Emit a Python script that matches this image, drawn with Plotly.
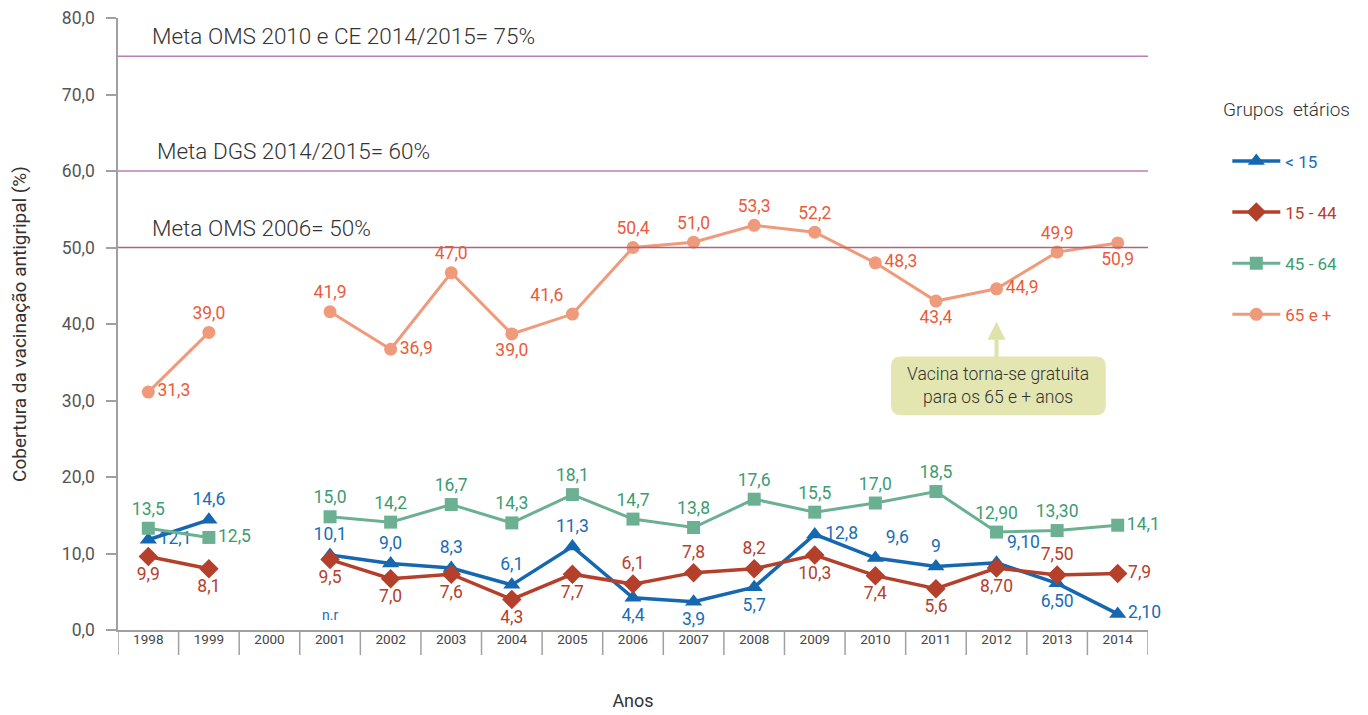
import plotly.graph_objects as go

years = [str(y) for y in range(1998, 2015)]

# plotted values; 2000 = no data
lt15 = [11.8, 14.4, None, 9.8, 8.7, 8.1, 5.9, 10.9, 4.2, 3.7, 5.6, 12.5, 9.4, 8.3, 8.8, 6.1, 2.1]
g15_44 = [9.6, 8.0, None, 9.2, 6.7, 7.3, 4.0, 7.3, 6.0, 7.5, 8.0, 9.8, 7.1, 5.4, 8.1, 7.2, 7.4]
g45_64 = [13.3, 12.1, None, 14.8, 14.1, 16.4, 14.0, 17.7, 14.5, 13.4, 17.1, 15.4, 16.6, 18.1, 12.8, 13.0, 13.7]
g65 = [31.1, 38.9, None, 41.6, 36.7, 46.7, 38.7, 41.3, 50.0, 50.7, 52.9, 52.0, 48.0, 43.0, 44.6, 49.4, 50.6]

# printed labels
lt15_lbl = ["12,1", "14,6", "", "10,1", "9,0", "8,3", "6,1", "11,3", "4,4", "3,9", "5,7", "12,8", "9,6", "9", "9,10", "6,50", "2,10"]
g15_44_lbl = ["9,9", "8,1", "", "9,5", "7,0", "7,6", "4,3", "7,7", "6,1", "7,8", "8,2", "10,3", "7,4", "5,6", "8,70", "7,50", "7,9"]
g45_64_lbl = ["13,5", "12,5", "", "15,0", "14,2", "16,7", "14,3", "18,1", "14,7", "13,8", "17,6", "15,5", "17,0", "18,5", "12,90", "13,30", "14,1"]
g65_lbl = ["31,3", "39,0", "", "41,9", "36,9", "47,0", "39,0", "41,6", "50,4", "51,0", "53,3", "52,2", "48,3", "43,4", "44,9", "49,9", "50,9"]

targets = [75, 60, 50]
target_lbl = ["Meta OMS 2010 e CE 2014/2015= 75%", "Meta DGS 2014/2015= 60%", "Meta OMS 2006= 50%"]
series_names = ["&lt; 15", "15 - 44", "45 - 64", "65 e +"]
nr_year = "2001"
free_year = "2012"
free_value_tip = 40.3

# label placement (style)
TC, BC, MR, TR, TL = "top center", "bottom center", "middle right", "top right", "top left"
lt15_pos = [MR, TC, TC, TC, TC, TC, TC, TC, BC, BC, BC, MR, TR, TC, TR, BC, MR]
g15_44_pos = [BC, BC, BC, BC, BC, BC, BC, BC, TC, TC, TC, BC, BC, BC, BC, TC, MR]
g45_64_pos = [TC, MR, TC, TC, TC, TC, TC, TC, TC, TC, TC, TC, TC, TC, TC, TC, MR]
g65_pos = [MR, TC, TC, TC, MR, TC, BC, TL, TC, TC, TC, TC, MR, BC, MR, TC, BC]

FONT = "Roboto"
fig = go.Figure()

specs = [
    (lt15, lt15_lbl, lt15_pos, "#1568b0", "#1a6db5", "triangle-up", 15, 3.5),
    (g15_44, g15_44_lbl, g15_44_pos, "#b4402c", "#b4402c", "diamond", 15, 3.5),
    (g45_64, g45_64_lbl, g45_64_pos, "#6cb094", "#3d9c72", "square", 13, 3),
    (g65, g65_lbl, g65_pos, "#f09a7c", "#ea5b3c", "circle", 13, 3),
]
for (vals, lbl, pos, col, tcol, sym, msz, lw), name in zip(specs, series_names):
    fig.add_trace(go.Scatter(
        x=years, y=vals, mode="lines+markers+text",
        text=lbl, textposition=pos,
        textfont=dict(family=FONT, size=17.5, color=tcol),
        line=dict(color=col, width=lw),
        marker=dict(symbol=sym, size=msz, color=col),
        connectgaps=False, cliponaxis=False,
        name=f"<span style='color:{tcol}'>{name}</span>",
        legendgroup=name,
    ))

shapes = []
tcolors = ["#c07db0", "#c07db0", "#a66a7e"]
for t, c in zip(targets, tcolors):
    shapes.append(dict(type="line", xref="paper", yref="y", x0=0, x1=1, y0=t, y1=t,
                       line=dict(color=c, width=1.5)))
# category separators below x axis
for i in range(len(years) + 1):
    shapes.append(dict(type="line", xref="x", yref="paper", x0=i - 0.5, x1=i - 0.5, y0=0, y1=-0.041,
                       line=dict(color="#a0a0a0", width=1.5)))
# rounded annotation box
x0, x1, y0, y1 = 0.7505, 0.959, 0.351, 0.447
rx, ry = 0.0097, 0.0163
path = (f"M {x0+rx},{y0} L {x1-rx},{y0} Q {x1},{y0} {x1},{y0+ry} L {x1},{y1-ry} Q {x1},{y1} {x1-rx},{y1} "
        f"L {x0+rx},{y1} Q {x0},{y1} {x0},{y1-ry} L {x0},{y0+ry} Q {x0},{y0} {x0+rx},{y0} Z")
shapes.append(dict(type="path", xref="paper", yref="paper", path=path,
                   fillcolor="#e3e6b0", line=dict(width=0), layer="below"))

annotations = []
label_x = [0.031, 0.036, 0.031]
for t, txt, lx in zip(targets, target_lbl, label_x):
    annotations.append(dict(xref="paper", yref="y", x=lx, y=t, text=txt, showarrow=False,
                            xanchor="left", yanchor="bottom", yshift=5,
                            font=dict(family=FONT, size=22.5, color="#333333", weight=300)))
annotations.append(dict(xref="x", yref="y", x=years.index(nr_year), y=2.0, text="n.r", showarrow=False,
                        font=dict(family=FONT, size=14, color="#1a6db5")))
# arrow pointing at the 2012 point, rising from the box
annotations.append(dict(xref="x", yref="y", x=years.index(free_year), y=free_value_tip,
                        ax=0, ay=46, axref="pixel", ayref="pixel", text=" ",
                        showarrow=True, arrowhead=2, arrowsize=0.9, arrowwidth=4,
                        arrowcolor="#dfe3aa", standoff=0, startstandoff=0))
annotations.append(dict(xref="paper", yref="paper", x=(x0 + x1) / 2, y=(y0 + y1) / 2,
                        xanchor="center", yanchor="middle",
                        text="Vacina torna-se gratuita<br>para os 65 e + anos", showarrow=False,
                        font=dict(family=FONT, size=17.5, color="#333333", weight=300)))
annotations.append(dict(xref="paper", yref="paper", x=1.134, y=0.85, xanchor="center", yanchor="middle",
                        text="Grupos  etários", showarrow=False,
                        font=dict(family=FONT, size=19, color="#333333", weight=300)))

fig.update_layout(
    width=1368, height=715,
    margin=dict(l=110, r=228, t=10, b=93, autoexpand=False),
    paper_bgcolor="white", plot_bgcolor="white",
    separators=",.",
    font=dict(family=FONT, size=14, color="#444444"),
    shapes=shapes, annotations=annotations,
    showlegend=True,
    legend=dict(x=1.077, y=0.795, xanchor="left", yanchor="top",
                font=dict(family=FONT, size=17), tracegroupgap=26, traceorder="grouped",
                itemwidth=48, bgcolor="rgba(0,0,0,0)"),
    xaxis=dict(type="category", categoryorder="array", categoryarray=years,
               range=[-0.5, len(years) - 0.5], showgrid=False, zeroline=False,
               showline=True, linecolor="#a0a0a0", linewidth=1.5, ticks="", ticklabelstandoff=-4,
               tickfont=dict(family=FONT, size=13.5, color="#444444"),
               title=dict(text="Anos", font=dict(family=FONT, size=18, color="#333333"), standoff=48)),
    yaxis=dict(range=[0, 80], dtick=10, tickformat=".1f", showgrid=False, zeroline=False,
               showline=True, linecolor="#a0a0a0", linewidth=1.5, ticks="outside", ticklen=10,
               tickcolor="#a0a0a0", tickwidth=1.5, ticklabelstandoff=8, ticklabeloverflow="allow",
               tickfont=dict(family=FONT, size=17.5, color="#555555"),
               title=dict(text="Cobertura da vacinação antigripal (%)",
                          font=dict(family=FONT, size=19, color="#333333"), standoff=33)),
)

fig.write_html("out.html")
